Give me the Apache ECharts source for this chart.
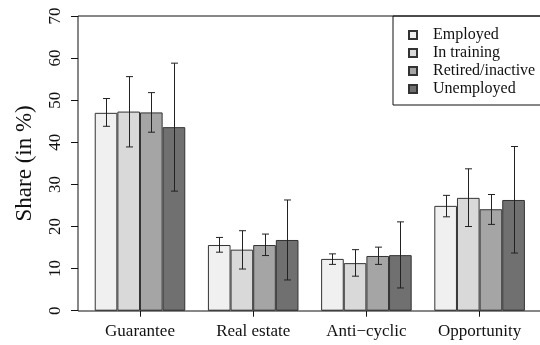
<!DOCTYPE html>
<html lang="en">
<head>
    <meta charset="UTF-8">
    <title>Share by status</title>
    <script src="https://cdn.jsdelivr.net/npm/echarts@6/dist/echarts.min.js"></script>
</head>
<body style="margin:0;">
<div id="main" style="width:540px; height:345px;"></div>
</body>
<script type="text/javascript">

    // categories and groups
    let categories = ['Guarantee', 'Real estate', 'Anti\u2212cyclic', 'Opportunity'];
    let groups = ['Employed', 'In training', 'Retired/inactive', 'Unemployed'];
    let colors = ['#f0f0f0', '#d9d9d9', '#a5a5a5', '#707070'];

    // bar heights (share in %)
    let employed   = [47.0, 15.6, 12.3, 24.9];
    let training   = [47.3, 14.5, 11.3, 26.8];
    let retired    = [47.1, 15.6, 13.0, 24.1];
    let unemployed = [43.6, 16.8, 13.2, 26.3];

    // error bars: lower and upper ends
    let employedLow    = [43.8, 13.9, 11.0, 22.3];
    let employedHigh   = [50.4, 17.4, 13.5, 27.4];
    let trainingLow    = [38.9, 9.9, 8.2, 20.0];
    let trainingHigh   = [55.6, 19.0, 14.5, 33.7];
    let retiredLow     = [42.4, 13.1, 11.0, 20.5];
    let retiredHigh    = [51.8, 18.2, 15.1, 27.6];
    let unemployedLow  = [28.4, 7.3, 5.4, 13.7];
    let unemployedHigh = [58.8, 26.3, 21.1, 39.0];

    let yTicks = [0, 10, 20, 30, 40, 50, 60, 70];

    let values = [employed, training, retired, unemployed];
    let lows = [employedLow, trainingLow, retiredLow, unemployedLow];
    let highs = [employedHigh, trainingHigh, retiredHigh, unemployedHigh];

    let font = '"Liberation Serif", "DejaVu Serif", serif';
    let myChart = echarts.init(document.getElementById('main'));

    let series = [];
    groups.forEach(function (g, i) {
        series.push({
            name: g,
            type: 'bar',
            data: values[i],
            barGap: '0%',
            barCategoryGap: '20%',
            itemStyle: {color: colors[i], borderColor: '#333', borderWidth: 1},
            emphasis: {disabled: true},
            z: 2
        });
    });
    // error bars, one custom series per group
    groups.forEach(function (g, i) {
        series.push({
            type: 'custom',
            data: categories.map(function (c, k) { return [k, lows[i][k], highs[i][k]]; }),
            encode: {x: 0, y: [1, 2]},
            z: 5,
            silent: true,
            renderItem: function (params, api) {
                let k = api.value(0);
                let lo = api.coord([k, api.value(1)]);
                let hi = api.coord([k, api.value(2)]);
                let band = api.size([1, 0])[0];
                let bw = band * 0.8 / 4;
                let x = Math.round(lo[0] + (i - 1.5) * bw) + 0.5;
                let cap = 3.5;
                let st = {stroke: '#222', lineWidth: 1};
                return {
                    type: 'group',
                    children: [
                        {type: 'line', shape: {x1: x, y1: lo[1], x2: x, y2: hi[1]}, style: st},
                        {type: 'line', shape: {x1: x - cap, y1: lo[1], x2: x + cap, y2: lo[1]}, style: st},
                        {type: 'line', shape: {x1: x - cap, y1: hi[1], x2: x + cap, y2: hi[1]}, style: st}
                    ]
                };
            }
        });
    });

    let option = {
        animation: false,
        textStyle: {fontFamily: font},
        grid: {left: 83.4, right: 3.8, top: 16, bottom: 34.3},
        legend: {
            data: groups,
            orient: 'vertical',
            left: 403,
            top: 22,
            icon: 'rect',
            itemWidth: 8,
            itemHeight: 8,
            itemGap: 2,
            textStyle: {fontFamily: font, fontSize: 16, lineHeight: 16, color: '#111', padding: [0, 0, 0, 11]}
        },
        xAxis: {
            type: 'category',
            data: categories,
            axisLine: {show: false},
            axisTick: {show: true, alignWithLabel: true, length: 6, lineStyle: {color: '#111'}},
            axisLabel: {fontFamily: font, fontSize: 17, color: '#111', margin: 12, interval: 0}
        },
        yAxis: {
            type: 'value',
            min: yTicks[0],
            max: yTicks[yTicks.length - 1],
            interval: 10,
            offset: 5.4,
            name: 'Share (in %)',
            nameLocation: 'middle',
            nameGap: 42,
            nameTextStyle: {fontFamily: font, fontSize: 23, color: '#111'},
            axisLine: {show: false},
            axisTick: {show: true, length: 7, lineStyle: {color: '#111'}},
            splitLine: {show: false},
            axisLabel: {fontFamily: font, fontSize: 17, color: '#111', rotate: 90, margin: 14}
        },
        graphic: [
            {type: 'rect', shape: {x: 78, y: 16, width: 500, height: 295}, style: {fill: 'none', stroke: '#111', lineWidth: 1}, z: 10, silent: true},
            {type: 'rect', shape: {x: 393, y: 16, width: 200, height: 89}, style: {fill: '#fff', stroke: '#111', lineWidth: 1}, z: 0, zlevel: 0, silent: true}
        ],
        series: series
    };
    myChart.setOption(option);
</script>
</html>
